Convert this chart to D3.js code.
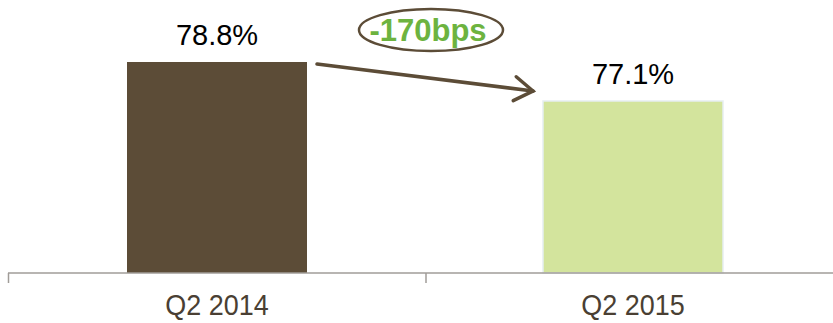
<!DOCTYPE html>
<html><head><meta charset="utf-8">
<script src="https://cdn.jsdelivr.net/npm/d3@7/dist/d3.min.js"></script>
<style>body{margin:0;background:#fff}svg{display:block}</style>
</head><body>
<script>
const categories = ["Q2 2014", "Q2 2015"];
const values = [78.8, 77.1];
const valueLabels = ["78.8%", "77.1%"];
const changeLabel = "-170bps";
const colors = ["#5c4c37", "#d3e49d"];

const W = 833, H = 323;
const FONT = "Liberation Sans, Arial, sans-serif";
const svg = d3.select("body").append("svg").attr("width", W).attr("height", H);
const axisY = 273;
const x = d3.scaleBand().domain(categories).range([10, 842]).paddingInner(0).paddingOuter(0);
const y = d3.scaleLinear().domain([69.6, 78.8]).range([axisY, 62]);
const bw = 180;
const cx = c => x(c) + x.bandwidth() / 2 - 1;

svg.selectAll("rect.bar").data(values).enter().append("rect")
  .attr("class", "bar")
  .attr("x", (d, i) => cx(categories[i]) - bw / 2)
  .attr("y", d => y(d))
  .attr("width", bw)
  .attr("height", d => axisY - y(d))
  .attr("fill", (d, i) => colors[i])
  .attr("stroke", (d, i) => i === 1 ? "#e6eef2" : "none")
  .attr("stroke-width", 1.5);

// axis
const axis = svg.append("g");
axis.append("line").attr("x1", 8).attr("x2", W).attr("y1", axisY).attr("y2", axisY)
  .attr("stroke", "#a09c98").attr("stroke-width", 1.5);
[8.5, 426].forEach(t => axis.append("line").attr("x1", t).attr("x2", t).attr("y1", axisY).attr("y2", axisY + 10)
  .attr("stroke", "#a09c98").attr("stroke-width", 1.5));

svg.selectAll("text.cat").data(categories).enter().append("text")
  .attr("class", "cat")
  .attr("transform", d => `translate(${cx(d)},315) scale(0.93,1)`)
  .attr("text-anchor", "middle")
  .attr("font-family", FONT)
  .attr("font-size", 29)
  .attr("fill", "#4a3f33")
  .text(d => d);

svg.selectAll("text.val").data(values).enter().append("text")
  .attr("class", "val")
  .attr("x", (d, i) => cx(categories[i]))
  .attr("y", d => y(d) - 17)
  .attr("text-anchor", "middle")
  .attr("font-family", FONT)
  .attr("font-size", 29)
  .attr("fill", "#000")
  .text((d, i) => valueLabels[i]);

// arrow
const ax1 = cx(categories[0]) + bw / 2 + 10, ay1 = y(values[0]) + 2;
const ax2 = cx(categories[1]) - bw / 2 - 10, ay2 = y(values[1]) - 10;
svg.append("line").attr("x1", ax1).attr("y1", ay1).attr("x2", ax2).attr("y2", ay2)
  .attr("stroke", "#5c4c37").attr("stroke-width", 3.5).attr("stroke-linecap", "round");
const ang = Math.atan2(ay2 - ay1, ax2 - ax1);
const hl = 22, ha = 0.58;
svg.append("path")
  .attr("d", `M${ax2 - hl*Math.cos(ang - ha)},${ay2 - hl*Math.sin(ang - ha)} L${ax2},${ay2} L${ax2 - hl*Math.cos(ang + ha)},${ay2 - hl*Math.sin(ang + ha)}`)
  .attr("fill", "none").attr("stroke", "#5c4c37").attr("stroke-width", 3.5)
  .attr("stroke-linecap", "round").attr("stroke-linejoin", "miter");

// ellipse label
svg.append("ellipse").attr("cx", 431).attr("cy", 30).attr("rx", 72).attr("ry", 21)
  .attr("fill", "none").attr("stroke", "#5c4c37").attr("stroke-width", 2.5);
svg.append("text").attr("x", 428).attr("y", 41)
  .attr("text-anchor", "middle")
  .attr("font-family", FONT)
  .attr("font-weight", "bold")
  .attr("font-size", 31)
  .attr("fill", "#6db33f")
  .text(changeLabel);
</script>
</body></html>
